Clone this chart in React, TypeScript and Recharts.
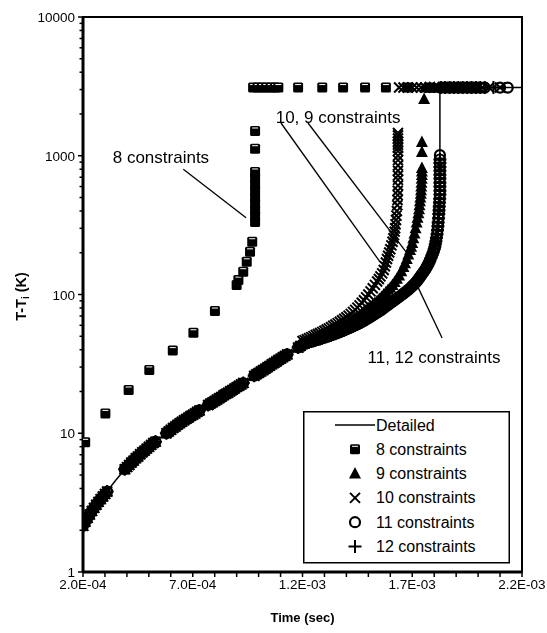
import React from "react";
import {
  ScatterChart,
  Scatter,
  XAxis,
  YAxis,
  ReferenceArea,
  ReferenceLine,
  ReferenceDot,
  Label,
} from "recharts";

type Pair = [number, number];

const FONT = "'Liberation Sans', Arial, Helvetica, sans-serif";

// axis ticks
const xTicks = [
  2e-4, 3e-4, 4e-4, 5e-4, 6e-4, 7e-4, 8e-4, 9e-4, 1.0e-3, 1.1e-3, 1.2e-3,
  1.3e-3, 1.4e-3, 1.5e-3, 1.6e-3, 1.7e-3, 1.8e-3, 1.9e-3, 2.0e-3, 2.1e-3,
  2.2e-3,
];
const xLabelTicks = [2e-4, 7e-4, 1.2e-3, 1.7e-3, 2.2e-3];
const xLabels = ["2.0E-04", "7.0E-04", "1.2E-03", "1.7E-03", "2.2E-03"];

const yTicks = [
  1, 2, 3, 4, 5, 6, 7, 8, 9, 10, 20, 30, 40, 50, 60, 70, 80, 90, 100, 200,
  300, 400, 500, 600, 700, 800, 900, 1000, 2000, 3000, 4000, 5000, 6000, 7000,
  8000, 9000, 10000,
];
const yLabelTicks = [1, 10, 100, 1000, 10000];

// detailed model (solid line)
const detailed: Pair[] = [
  [2.0e-4, 2.1], [2.5e-4, 2.85], [3.0e-4, 3.65], [3.5e-4, 4.6], [4.0e-4, 5.7],
  [4.5e-4, 6.8], [5.0e-4, 8.0], [5.5e-4, 9.2], [6.0e-4, 10.6], [6.5e-4, 12.1],
  [7.0e-4, 13.6], [7.5e-4, 15.3], [8.0e-4, 17.1], [8.5e-4, 19.2], [9.0e-4, 21.5],
  [9.5e-4, 24.2], [1.0e-3, 27.2], [1.05e-3, 30.6], [1.1e-3, 34.5], [1.15e-3, 38.8],
  [1.2e-3, 43.8], [1.26e-3, 46.8], [1.32e-3, 50.2], [1.38e-3, 54.5], [1.44e-3, 60],
  [1.5e-3, 67.5], [1.56e-3, 77.5], [1.62e-3, 91], [1.68e-3, 107.5], [1.72e-3, 124],
  [1.75e-3, 144], [1.78e-3, 175], [1.8e-3, 212], [1.81e-3, 255], [1.818e-3, 330],
  [1.823e-3, 430], [1.826e-3, 560], [1.826e-3, 3100], [2.2e-3, 3100],
];

// early bursts shared by the 9..12 constraint runs (they sit on top of each other)
const earlyTrace: Pair[] = [
  [2.0e-4, 2.15], [2.1e-4, 2.3], [2.2e-4, 2.45], [2.3e-4, 2.6], [2.4e-4, 2.75],
  [2.5e-4, 2.9], [2.6e-4, 3.05], [2.7e-4, 3.2], [2.8e-4, 3.35], [2.9e-4, 3.5],
  [3.0e-4, 3.65], [3.1e-4, 3.8],
  [3.9e-4, 5.5], [4.0e-4, 5.7], [4.1e-4, 5.9], [4.2e-4, 6.15], [4.3e-4, 6.35],
  [4.4e-4, 6.6], [4.5e-4, 6.8], [4.6e-4, 7.05], [4.7e-4, 7.3], [4.8e-4, 7.5],
  [4.9e-4, 7.75], [5.0e-4, 8.0], [5.1e-4, 8.25], [5.2e-4, 8.5], [5.3e-4, 8.7],
  [5.8e-4, 10.0], [5.9e-4, 10.3], [6.0e-4, 10.6], [6.1e-4, 10.9], [6.2e-4, 11.2],
  [6.3e-4, 11.5], [6.4e-4, 11.8], [6.5e-4, 12.1], [6.6e-4, 12.4], [6.7e-4, 12.7],
  [6.8e-4, 13.0], [6.9e-4, 13.3], [7.0e-4, 13.6], [7.1e-4, 13.9], [7.2e-4, 14.3],
  [7.3e-4, 14.6],
  [7.7e-4, 16.0], [7.8e-4, 16.4], [7.9e-4, 16.7], [8.0e-4, 17.1], [8.1e-4, 17.5],
  [8.2e-4, 17.9], [8.3e-4, 18.3], [8.4e-4, 18.8], [8.5e-4, 19.2], [8.6e-4, 19.6],
  [8.7e-4, 20.1], [8.8e-4, 20.5], [8.9e-4, 21.0], [9.0e-4, 21.5], [9.1e-4, 22.0],
  [9.2e-4, 22.5], [9.3e-4, 23.0],
  [9.8e-4, 26.0], [9.9e-4, 26.6], [1.0e-3, 27.2], [1.01e-3, 27.9], [1.02e-3, 28.5],
  [1.03e-3, 29.2], [1.04e-3, 29.9], [1.05e-3, 30.6], [1.06e-3, 31.4], [1.07e-3, 32.1],
  [1.08e-3, 32.9], [1.09e-3, 33.7], [1.1e-3, 34.5], [1.11e-3, 35.3], [1.12e-3, 36.1],
  [1.13e-3, 37.0],
  [1.18e-3, 41.5], [1.19e-3, 42.5],
];

const run8: Pair[] = [
  [2.1e-4, 8.6], [3.02e-4, 13.9], [4.08e-4, 20.5], [5.02e-4, 28.6], [6.09e-4, 39.4],
  [7.03e-4, 53], [8.01e-4, 76], [9.0e-4, 117], [9.08e-4, 127], [9.3e-4, 146],
  [9.46e-4, 172], [9.61e-4, 203], [9.71e-4, 240], [9.84e-4, 333], [9.84e-4, 370],
  [9.84e-4, 405], [9.84e-4, 450], [9.84e-4, 500], [9.84e-4, 560], [9.84e-4, 620],
  [9.84e-4, 690], [9.84e-4, 764], [9.84e-4, 1124], [9.84e-4, 1508],
  [9.75e-4, 3100], [9.95e-4, 3100], [1.015e-3, 3100], [1.035e-3, 3100],
  [1.055e-3, 3100], [1.075e-3, 3100], [1.09e-3, 3100], [1.18e-3, 3100],
  [1.29e-3, 3100], [1.385e-3, 3100], [1.485e-3, 3100], [1.58e-3, 3100],
  [1.68e-3, 3100], [1.78e-3, 3100], [1.88e-3, 3100], [1.98e-3, 3100],
];

const late9: Pair[] = [
  [1.2e-3, 45.2], [1.21e-3, 45.7], [1.22e-3, 46.3], [1.23e-3, 46.9], [1.24e-3, 47.5],
  [1.25e-3, 48.1], [1.26e-3, 48.8], [1.27e-3, 49.5], [1.28e-3, 50.2], [1.29e-3, 51.0],
  [1.3e-3, 51.8], [1.31e-3, 52.6], [1.32e-3, 53.5], [1.33e-3, 54.4], [1.34e-3, 55.3],
  [1.35e-3, 56.3], [1.36e-3, 57.3], [1.37e-3, 58.4], [1.38e-3, 59.5], [1.39e-3, 60.7],
  [1.4e-3, 62.0], [1.41e-3, 63.4], [1.42e-3, 64.8], [1.43e-3, 66.3], [1.44e-3, 67.8],
  [1.45e-3, 69.4], [1.46e-3, 71.0], [1.47e-3, 73.0], [1.48e-3, 75.0], [1.49e-3, 77.2],
  [1.5e-3, 79.5], [1.51e-3, 82], [1.52e-3, 84.5], [1.53e-3, 87], [1.54e-3, 89.8],
  [1.55e-3, 92.8], [1.56e-3, 96], [1.57e-3, 100], [1.58e-3, 104], [1.59e-3, 108],
  [1.6e-3, 112], [1.61e-3, 117], [1.62e-3, 123], [1.63e-3, 130], [1.64e-3, 137],
  [1.65e-3, 147], [1.66e-3, 158], [1.667e-3, 168], [1.675e-3, 180], [1.682e-3, 194],
  [1.69e-3, 209], [1.695e-3, 221], [1.7e-3, 235], [1.705e-3, 254], [1.71e-3, 275],
  [1.715e-3, 300], [1.72e-3, 330], [1.724e-3, 357], [1.728e-3, 385], [1.731e-3, 412],
  [1.733e-3, 440], [1.735e-3, 470], [1.737e-3, 500], [1.739e-3, 532], [1.74e-3, 565],
  [1.741e-3, 600], [1.742e-3, 640], [1.743e-3, 682], [1.744e-3, 726], [1.744e-3, 770],
  [1.744e-3, 816], [1.744e-3, 1064], [1.744e-3, 1256], [1.754e-3, 2565],
  [1.76e-3, 3100], [1.78e-3, 3100], [1.8e-3, 3100], [1.82e-3, 3100], [1.84e-3, 3100],
  [1.86e-3, 3100], [1.88e-3, 3100], [1.9e-3, 3100], [1.92e-3, 3100], [1.94e-3, 3100],
  [1.96e-3, 3100], [1.98e-3, 3100], [2.0e-3, 3100],
];

const late10: Pair[] = [
  [1.2e-3, 46.2], [1.21e-3, 46.9], [1.22e-3, 47.7], [1.23e-3, 48.5], [1.24e-3, 49.3],
  [1.25e-3, 50.1], [1.26e-3, 51.0], [1.27e-3, 51.9], [1.28e-3, 52.8], [1.29e-3, 53.8],
  [1.3e-3, 54.8], [1.31e-3, 55.9], [1.32e-3, 57.0], [1.33e-3, 58.2], [1.34e-3, 59.5],
  [1.35e-3, 60.8], [1.36e-3, 62.2], [1.37e-3, 63.7], [1.38e-3, 65.2], [1.39e-3, 66.8],
  [1.4e-3, 68.5], [1.41e-3, 70.4], [1.42e-3, 72.5], [1.43e-3, 74.9], [1.44e-3, 77.5],
  [1.45e-3, 80.4], [1.46e-3, 83.5], [1.47e-3, 87.1], [1.48e-3, 91], [1.49e-3, 95.4],
  [1.5e-3, 100], [1.51e-3, 105.3], [1.52e-3, 111], [1.53e-3, 117.3], [1.54e-3, 124],
  [1.548e-3, 129.5], [1.555e-3, 135], [1.563e-3, 142], [1.57e-3, 150], [1.575e-3, 160],
  [1.58e-3, 170], [1.585e-3, 180], [1.59e-3, 190], [1.595e-3, 201], [1.6e-3, 212],
  [1.605e-3, 226], [1.61e-3, 240], [1.614e-3, 254], [1.617e-3, 268], [1.62e-3, 284],
  [1.622e-3, 300], [1.624e-3, 320], [1.626e-3, 344], [1.628e-3, 370], [1.63e-3, 400],
  [1.632e-3, 440], [1.633e-3, 480], [1.634e-3, 520], [1.634e-3, 560], [1.635e-3, 610],
  [1.635e-3, 670], [1.635e-3, 720], [1.635e-3, 780], [1.635e-3, 850], [1.635e-3, 930],
  [1.635e-3, 1000], [1.635e-3, 1080], [1.635e-3, 1140], [1.635e-3, 1200],
  [1.635e-3, 1265], [1.635e-3, 1330], [1.635e-3, 1400], [1.635e-3, 1459],
  [1.64e-3, 3100], [1.66e-3, 3100], [1.68e-3, 3100], [1.7e-3, 3100], [1.72e-3, 3100],
  [1.74e-3, 3100], [1.76e-3, 3100], [1.78e-3, 3100], [1.8e-3, 3100], [1.82e-3, 3100],
  [1.84e-3, 3100], [1.86e-3, 3100], [1.88e-3, 3100], [1.9e-3, 3100], [1.92e-3, 3100],
  [1.94e-3, 3100], [1.96e-3, 3100], [1.98e-3, 3100], [2.0e-3, 3100], [2.02e-3, 3100],
  [2.05e-3, 3100], [2.1e-3, 3100],
];

// 11 and 12 constraints overlap along the right-hand branch
const late11: Pair[] = [
  [1.2e-3, 43.8], [1.21e-3, 44.3], [1.22e-3, 44.8], [1.23e-3, 45.3], [1.24e-3, 45.8],
  [1.25e-3, 46.3], [1.26e-3, 46.8], [1.27e-3, 47.3], [1.28e-3, 47.8], [1.29e-3, 48.4],
  [1.3e-3, 49.0], [1.31e-3, 49.6], [1.32e-3, 50.2], [1.33e-3, 50.8], [1.34e-3, 51.5],
  [1.35e-3, 52.2], [1.36e-3, 53.0], [1.37e-3, 53.7], [1.38e-3, 54.5], [1.39e-3, 55.3],
  [1.4e-3, 56.2], [1.41e-3, 57.1], [1.42e-3, 58.0], [1.43e-3, 59.0], [1.44e-3, 60.0],
  [1.45e-3, 61.0], [1.46e-3, 62.1], [1.47e-3, 63.3], [1.48e-3, 64.6], [1.49e-3, 66.0],
  [1.5e-3, 67.5], [1.51e-3, 69.0], [1.52e-3, 70.6], [1.53e-3, 72.3], [1.54e-3, 74.0],
  [1.55e-3, 75.7], [1.56e-3, 77.5], [1.57e-3, 79.7], [1.58e-3, 82], [1.59e-3, 84.2],
  [1.6e-3, 86.5], [1.61e-3, 88.7], [1.62e-3, 91], [1.63e-3, 93.5], [1.64e-3, 96],
  [1.65e-3, 98.7], [1.66e-3, 101.5], [1.67e-3, 104.5], [1.68e-3, 107.5], [1.69e-3, 111],
  [1.7e-3, 115], [1.705e-3, 117], [1.71e-3, 119], [1.715e-3, 121.5], [1.72e-3, 124],
  [1.725e-3, 127], [1.73e-3, 130], [1.735e-3, 133.5], [1.74e-3, 137], [1.745e-3, 140.5],
  [1.75e-3, 144], [1.755e-3, 148], [1.76e-3, 152], [1.765e-3, 157], [1.77e-3, 162],
  [1.775e-3, 168], [1.78e-3, 175], [1.785e-3, 183], [1.79e-3, 192], [1.795e-3, 201],
  [1.8e-3, 212], [1.803e-3, 221], [1.805e-3, 230], [1.808e-3, 242], [1.81e-3, 255],
  [1.813e-3, 272], [1.815e-3, 290], [1.817e-3, 310], [1.818e-3, 330], [1.82e-3, 355],
  [1.821e-3, 380], [1.822e-3, 405], [1.823e-3, 430], [1.824e-3, 460], [1.825e-3, 490],
  [1.826e-3, 525], [1.826e-3, 560], [1.826e-3, 600], [1.826e-3, 640], [1.826e-3, 685],
  [1.826e-3, 730], [1.826e-3, 780], [1.826e-3, 830], [1.826e-3, 885], [1.826e-3, 940],
  [1.826e-3, 1010],
  [1.83e-3, 3100], [1.85e-3, 3100], [1.87e-3, 3100], [1.89e-3, 3100], [1.91e-3, 3100],
  [1.93e-3, 3100], [1.95e-3, 3100], [1.97e-3, 3100], [1.99e-3, 3100], [2.01e-3, 3100],
  [2.03e-3, 3100], [2.1e-3, 3100], [2.135e-3, 3100],
];

const late12: Pair[] = [
  [1.2e-3, 43.8], [1.21e-3, 44.3], [1.22e-3, 44.8], [1.23e-3, 45.3], [1.24e-3, 45.8],
  [1.25e-3, 46.3], [1.26e-3, 46.8], [1.27e-3, 47.3], [1.28e-3, 47.8], [1.29e-3, 48.4],
  [1.3e-3, 49.0], [1.31e-3, 49.6], [1.32e-3, 50.2], [1.33e-3, 50.8], [1.34e-3, 51.5],
  [1.35e-3, 52.2], [1.36e-3, 53.0], [1.37e-3, 53.7], [1.38e-3, 54.5], [1.39e-3, 55.3],
  [1.4e-3, 56.2], [1.41e-3, 57.1], [1.42e-3, 58.0], [1.43e-3, 59.0], [1.44e-3, 60.0],
  [1.45e-3, 61.0], [1.46e-3, 62.1], [1.47e-3, 63.3], [1.48e-3, 64.6], [1.49e-3, 66.0],
  [1.5e-3, 67.5], [1.51e-3, 69.0], [1.52e-3, 70.6], [1.53e-3, 72.3], [1.54e-3, 74.0],
  [1.55e-3, 75.7], [1.56e-3, 77.5], [1.57e-3, 79.7], [1.58e-3, 82], [1.59e-3, 84.2],
  [1.6e-3, 86.5], [1.61e-3, 88.7], [1.62e-3, 91], [1.63e-3, 93.5], [1.64e-3, 96],
  [1.65e-3, 98.7], [1.66e-3, 101.5], [1.67e-3, 104.5], [1.68e-3, 107.5], [1.69e-3, 111],
  [1.7e-3, 115], [1.705e-3, 117], [1.71e-3, 119], [1.715e-3, 121.5], [1.72e-3, 124],
  [1.725e-3, 127], [1.73e-3, 130], [1.735e-3, 133.5], [1.74e-3, 137], [1.745e-3, 140.5],
  [1.75e-3, 144], [1.755e-3, 148], [1.76e-3, 152], [1.765e-3, 157], [1.77e-3, 162],
  [1.775e-3, 168], [1.78e-3, 175], [1.785e-3, 183], [1.79e-3, 192], [1.795e-3, 201],
  [1.8e-3, 212], [1.803e-3, 221], [1.805e-3, 230], [1.808e-3, 242], [1.81e-3, 255],
  [1.813e-3, 272], [1.815e-3, 290], [1.817e-3, 310], [1.818e-3, 330], [1.82e-3, 355],
  [1.821e-3, 380], [1.822e-3, 405], [1.823e-3, 430], [1.824e-3, 460], [1.825e-3, 490],
  [1.826e-3, 525], [1.826e-3, 560], [1.826e-3, 600], [1.826e-3, 640], [1.826e-3, 685],
  [1.826e-3, 730], [1.826e-3, 780], [1.826e-3, 830], [1.826e-3, 885], [1.826e-3, 940],
  [1.83e-3, 3100], [1.85e-3, 3100], [1.87e-3, 3100], [1.89e-3, 3100], [1.91e-3, 3100],
  [1.93e-3, 3100], [1.95e-3, 3100], [1.97e-3, 3100], [1.99e-3, 3100], [2.01e-3, 3100],
  [2.03e-3, 3100], [2.07e-3, 3100],
];

const toPts = (arr: Pair[]) => arr.map(([t, T]) => ({ t, T }));

// markers
const squareMark = (cx: number, cy: number) => (
  <g>
    <rect x={cx - 5} y={cy - 5} width={10} height={10} rx={1.5} fill="#000" />
    <line x1={cx - 3} x2={cx + 3} y1={cy - 3} y2={cy - 3} stroke="#fff" strokeWidth={1} />
  </g>
);
const triangleMark = (cx: number, cy: number) => (
  <polygon points={`${cx},${cy - 6.5} ${cx + 6},${cy + 5} ${cx - 6},${cy + 5}`} fill="#000" />
);
const crossMark = (cx: number, cy: number) => (
  <path d={`M${cx - 5},${cy - 5}L${cx + 5},${cy + 5}M${cx - 5},${cy + 5}L${cx + 5},${cy - 5}`} stroke="#000" strokeWidth={2} />
);
const circleMark = (cx: number, cy: number) => (
  <circle cx={cx} cy={cy} r={5} fill="none" stroke="#000" strokeWidth={2.2} />
);
const plusMark = (cx: number, cy: number) => (
  <path d={`M${cx - 6.5},${cy}L${cx + 6.5},${cy}M${cx},${cy - 6.5}L${cx},${cy + 6.5}`} stroke="#000" strokeWidth={2} />
);

const shapeOf = (fn: (cx: number, cy: number) => React.ReactElement) => (p: any) =>
  fn(p.cx, p.cy);

function XTick({ x, y, payload }: any) {
  const i = xLabelTicks.findIndex((v) => Math.abs(v - payload.value) < 1e-9);
  return (
    <g>
      <line x1={x} x2={x} y1={y} y2={y + 5} stroke="#000" strokeWidth={1.5} />
      {i >= 0 && (
        <text x={x} y={y + 17} textAnchor="middle" fontSize={13.5} fontFamily={FONT} fill="#000">
          {xLabels[i]}
        </text>
      )}
    </g>
  );
}

function YTick({ x, y, payload }: any) {
  const major = yLabelTicks.includes(payload.value);
  return (
    <g>
      <line x1={x} x2={x - (major ? 5 : 3.5)} y1={y} y2={y} stroke="#000" strokeWidth={1.5} />
      {major && (
        <text x={x - 8} y={y + 5} textAnchor="end" fontSize={13.5} fontFamily={FONT} fill="#000">
          {String(payload.value)}
        </text>
      )}
    </g>
  );
}

const XTitle = ({ viewBox }: any) => (
  <text
    x={viewBox.x + viewBox.width / 2}
    y={viewBox.y + 50}
    textAnchor="middle"
    fontSize={13}
    fontWeight="bold"
    fontFamily={FONT}
    fill="#000"
  >
    Time (sec)
  </text>
);

const YTitle = ({ viewBox }: any) => {
  const cx = viewBox.x + 18;
  const cy = viewBox.y + viewBox.height / 2 + 2;
  return (
    <text
      x={cx}
      y={cy}
      transform={`rotate(-90, ${cx}, ${cy})`}
      textAnchor="middle"
      fontSize={14.5}
      fontWeight="bold"
      fontFamily={FONT}
      fill="#000"
    >
      T-T
      <tspan fontSize={10} dy={3}>i</tspan>
      <tspan dy={-3}> (K)</tspan>
    </text>
  );
};

const annoFont = { fontSize: 17, fontFamily: FONT, fill: "#000" };

const legendRows = [
  { name: "Detailed", mark: null },
  { name: "8 constraints", mark: squareMark },
  { name: "9 constraints", mark: triangleMark },
  { name: "10 constraints", mark: crossMark },
  { name: "11 constraints", mark: circleMark },
  { name: "12 constraints", mark: plusMark },
];

function LegendBox() {
  return (
    <svg
      width={207}
      height={153}
      style={{ position: "absolute", left: 295, top: 403 }}
    >
      <rect x={0.75} y={0.75} width={205.5} height={151} fill="#fff" stroke="#000" strokeWidth={1.5} />
      {legendRows.map((r, i) => {
        const cy = 14 + i * 24.3;
        return (
          <g key={r.name}>
            {r.mark ? (
              r.mark(52, cy)
            ) : (
              <line x1={32} x2={72} y1={cy} y2={cy} stroke="#000" strokeWidth={1.5} />
            )}
            <text x={73} y={cy + 5.5} fontSize={16} fontFamily={FONT} fill="#000">
              {r.name}
            </text>
          </g>
        );
      })}
    </svg>
  );
}

export default function App() {
  return (
    <div style={{ position: "fixed", left: 8, top: 8, width: 539, height: 617 }}>
      <ScatterChart
        width={539}
        height={617}
        margin={{ top: 9, right: 25, bottom: 0, left: 0 }}
      >
        <XAxis
          type="number"
          dataKey="t"
          domain={[2e-4, 2.2e-3]}
          ticks={xTicks}
          interval={0}
          allowDataOverflow
          height={53}
          tickSize={0}
          tickMargin={0}
          tickLine={false}
          tick={<XTick />}
          axisLine={{ stroke: "#000", strokeWidth: 3 }}
        >
          <Label content={<XTitle />} />
        </XAxis>
        <YAxis
          type="number"
          dataKey="T"
          scale="log"
          domain={[1, 10000]}
          ticks={yTicks}
          interval={0}
          allowDataOverflow
          width={75}
          tickSize={0}
          tickMargin={0}
          tickLine={false}
          tick={<YTick />}
          axisLine={{ stroke: "#000", strokeWidth: 3 }}
        >
          <Label content={<YTitle />} />
        </YAxis>
        <ReferenceArea
          x1={2e-4}
          x2={2.2e-3}
          y1={1}
          y2={10000}
          fill="none"
          stroke="#000"
          strokeWidth={2}
        />

        <Scatter
          name="Detailed"
          data={toPts(detailed)}
          line={{ stroke: "#000", strokeWidth: 1.5 }}
          lineType="joint"
          shape={() => <g />}
          isAnimationActive={false}
        />
        <Scatter name="8 constraints" data={toPts(run8)} shape={shapeOf(squareMark)} isAnimationActive={false} />
        <Scatter name="9 constraints" data={toPts([...earlyTrace, ...late9])} shape={shapeOf(triangleMark)} isAnimationActive={false} />
        <Scatter name="10 constraints" data={toPts([...earlyTrace, ...late10])} shape={shapeOf(crossMark)} isAnimationActive={false} />
        <Scatter name="11 constraints" data={toPts([...earlyTrace, ...late11])} shape={shapeOf(circleMark)} isAnimationActive={false} />
        <Scatter name="12 constraints" data={toPts([...earlyTrace, ...late12])} shape={shapeOf(plusMark)} isAnimationActive={false} />

        {/* annotations */}
        <ReferenceLine segment={[{ x: 6.57e-4, y: 798 }, { x: 9.43e-4, y: 358 }]} stroke="#000" strokeWidth={1.3} />
        <ReferenceLine segment={[{ x: 1.102e-3, y: 1722 }, { x: 1.553e-3, y: 171.5 }]} stroke="#000" strokeWidth={1.3} />
        <ReferenceLine segment={[{ x: 1.225e-3, y: 1722 }, { x: 1.676e-3, y: 199 }]} stroke="#000" strokeWidth={1.3} />
        <ReferenceLine segment={[{ x: 1.836e-3, y: 48.6 }, { x: 1.726e-3, y: 113 }]} stroke="#000" strokeWidth={1.3} />
        <ReferenceDot x={5.55e-4} y={979} r={0} fill="none" stroke="none" label={{ value: "8 constraints", position: "center", ...annoFont }} />
        <ReferenceDot x={1.362e-3} y={1912} r={0} fill="none" stroke="none" label={{ value: "10, 9 constraints", position: "center", ...annoFont }} />
        <ReferenceDot x={1.799e-3} y={35.4} r={0} fill="none" stroke="none" label={{ value: "11, 12 constraints", position: "center", ...annoFont }} />
      </ScatterChart>
      <LegendBox />
    </div>
  );
}
